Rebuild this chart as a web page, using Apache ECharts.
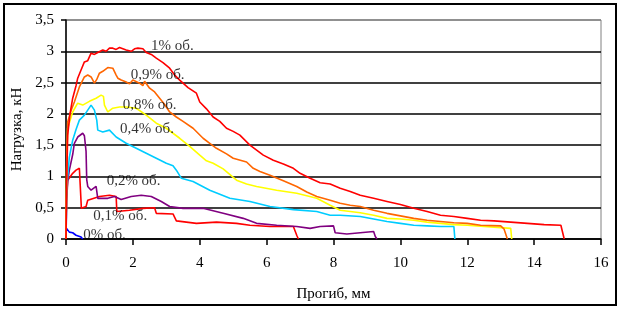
<!DOCTYPE html>
<html><head><meta charset="utf-8">
<script src="https://cdn.jsdelivr.net/npm/echarts@6/dist/echarts.min.js"></script>
<style>html,body{margin:0;padding:0;background:#fff}#c{width:624px;height:310px}</style>
</head><body><div id="c"></div>
<script>
// Deflection (mm) vs load (kN) for each fibre content
const r100 = [[0,0],[0.02,0.9],[0.05,1.66],[0.12,2.0],[0.2,2.25],[0.3,2.45],[0.35,2.57],[0.45,2.7],[0.55,2.83],[0.65,2.85],[0.75,2.97],[0.85,2.95],[0.95,2.98],[1.1,3.02],[1.2,3.0],[1.3,3.05],[1.4,3.05],[1.5,3.03],[1.6,3.06],[1.8,3.02],[1.95,3.0],[2.05,3.04],[2.15,3.05],[2.3,3.04],[2.4,2.98],[2.55,2.95],[2.7,2.89],[2.9,2.82],[3.1,2.73],[3.25,2.62],[3.4,2.54],[3.65,2.42],[3.9,2.33],[4.0,2.19],[4.2,2.08],[4.4,1.95],[4.6,1.88],[4.8,1.77],[5.0,1.72],[5.2,1.66],[5.5,1.50],[5.9,1.34],[6.2,1.26],[6.5,1.20],[6.8,1.13],[7.0,1.05],[7.3,0.97],[7.6,0.90],[7.9,0.88],[8.2,0.81],[8.5,0.76],[8.8,0.70],[9.2,0.65],[9.6,0.60],[10.0,0.55],[10.4,0.49],[10.8,0.44],[11.2,0.38],[11.6,0.36],[12.0,0.33],[12.4,0.30],[12.8,0.29],[13.3,0.27],[13.8,0.25],[14.3,0.23],[14.8,0.22],[14.85,0.2],[14.9,0]];
const r090 = [[0,0],[0.02,1.2],[0.05,1.87],[0.15,2.05],[0.25,2.19],[0.4,2.43],[0.55,2.59],[0.65,2.62],[0.75,2.59],[0.85,2.49],[0.92,2.55],[1.0,2.65],[1.1,2.68],[1.25,2.74],[1.4,2.73],[1.5,2.62],[1.55,2.57],[1.65,2.54],[1.8,2.51],[1.9,2.48],[2.0,2.54],[2.2,2.49],[2.3,2.45],[2.35,2.52],[2.5,2.41],[2.65,2.35],[2.8,2.25],[2.95,2.15],[3.1,2.03],[3.3,1.95],[3.5,1.88],[3.8,1.77],[4.1,1.61],[4.3,1.53],[4.5,1.45],[4.8,1.36],[5.0,1.29],[5.4,1.23],[5.6,1.13],[5.8,1.08],[6.1,1.02],[6.5,0.93],[6.9,0.84],[7.2,0.75],[7.5,0.68],[7.9,0.62],[8.2,0.57],[8.5,0.54],[8.8,0.52],[9.2,0.46],[9.6,0.41],[10.0,0.37],[10.4,0.33],[10.8,0.30],[11.2,0.28],[11.6,0.26],[12.0,0.25],[12.4,0.22],[13.0,0.21],[13.1,0.16],[13.2,0]];
const r080 = [[0,0],[0.02,1.1],[0.05,1.77],[0.2,2.03],[0.35,2.17],[0.5,2.14],[0.7,2.20],[0.9,2.25],[1.05,2.30],[1.12,2.28],[1.15,2.14],[1.25,2.03],[1.4,2.09],[1.6,2.11],[1.8,2.11],[2.1,2.09],[2.4,1.98],[2.7,1.85],[3.0,1.77],[3.2,1.69],[3.4,1.61],[3.7,1.48],[4.0,1.34],[4.2,1.25],[4.4,1.21],[4.7,1.12],[5.1,0.94],[5.4,0.88],[5.7,0.84],[6.3,0.78],[6.9,0.73],[7.5,0.65],[7.9,0.54],[8.2,0.46],[8.8,0.42],[9.2,0.38],[9.6,0.33],[10.0,0.32],[10.4,0.30],[10.8,0.27],[11.2,0.25],[11.6,0.23],[12.0,0.22],[12.8,0.19],[13.3,0.17],[13.33,0]];
const r040 = [[0,0],[0.02,0.8],[0.1,1.31],[0.2,1.58],[0.3,1.75],[0.4,1.90],[0.55,1.98],[0.65,2.06],[0.75,2.14],[0.85,2.06],[0.92,1.90],[0.95,1.74],[1.1,1.71],[1.3,1.74],[1.5,1.63],[1.8,1.53],[2.1,1.45],[2.4,1.37],[2.7,1.29],[3.0,1.21],[3.2,1.17],[3.3,1.10],[3.45,0.97],[3.8,0.92],[4.3,0.78],[4.9,0.65],[5.5,0.60],[6.1,0.52],[6.8,0.47],[7.5,0.44],[7.9,0.38],[8.2,0.38],[8.8,0.36],[9.2,0.32],[9.6,0.28],[10.0,0.25],[10.4,0.22],[10.8,0.21],[11.2,0.20],[11.6,0.20],[11.63,0]];
const r020 = [[0,0],[0.02,0.6],[0.05,0.92],[0.1,1.10],[0.2,1.35],[0.25,1.53],[0.35,1.63],[0.5,1.69],[0.55,1.65],[0.6,1.4],[0.62,0.95],[0.65,0.84],[0.75,0.78],[0.9,0.84],[0.95,0.65],[1.25,0.65],[1.45,0.68],[1.65,0.63],[1.95,0.68],[2.25,0.70],[2.55,0.68],[2.85,0.60],[3.1,0.52],[3.5,0.49],[4.1,0.49],[4.7,0.41],[5.3,0.33],[5.7,0.25],[6.3,0.22],[6.9,0.20],[7.3,0.17],[7.6,0.20],[8.0,0.21],[8.05,0.10],[8.4,0.08],[8.8,0.10],[9.2,0.12],[9.25,0.04],[9.3,0]];
const r010 = [[0,0],[0.01,0.62],[0.05,0.94],[0.2,1.05],[0.3,1.10],[0.4,1.13],[0.45,1.10],[0.46,0.49],[0.6,0.52],[0.65,0.62],[0.7,0.62],[1.0,0.68],[1.3,0.70],[1.5,0.68],[1.52,0.44],[1.9,0.46],[2.3,0.49],[2.65,0.50],[2.7,0.41],[3.2,0.40],[3.3,0.29],[3.9,0.25],[4.5,0.27],[5.1,0.25],[5.5,0.22],[6.1,0.20],[6.8,0.20],[6.9,0.06],[6.95,0]];
const r000 = [[0,0],[0,0.18],[0.05,0.15],[0.1,0.11],[0.2,0.10],[0.3,0.06],[0.45,0.03],[0.5,0]];

const seriesNames = ['0% об.','0,1% об.','0,2% об.','0,4% об.','0,8% об.','0,9% об.','1% об.'];
const seriesData  = [r000, r010, r020, r040, r080, r090, r100];
const seriesColors = ['#0000FF','#FF0000','#800080','#00CCFF','#FFFF00','#FF6600','#FF0000'];

// Curve label anchor positions (data coords)
const labelX = [0.50, 0.80, 1.20, 1.60, 1.68, 1.92, 2.53];
const labelY = [0.06, 0.36, 0.92, 1.76, 2.14, 2.62, 3.08];

const yTicks = [0,0.5,1,1.5,2,2.5,3,3.5];

const FONT = '"Liberation Serif","Times New Roman",serif';
const chart = echarts.init(document.getElementById('c'), null, {renderer:'canvas'});

const series = seriesData.map((d,i)=>({
  type:'line', name:seriesNames[i], data:d, showSymbol:false, symbol:'none',
  lineStyle:{color:seriesColors[i], width:1.6}, itemStyle:{color:seriesColors[i]},
  animation:false, z:2+i
}));
series.push({
  type:'scatter', symbolSize:1, itemStyle:{color:'rgba(0,0,0,0)'}, z:20, animation:false,
  data: seriesNames.map((n,i)=>({value:[labelX[i],labelY[i]], name:n})),
  label:{show:true, position:'right', distance:0, formatter:p=>p.name,
    color:'#000', fontFamily:FONT, fontSize:15}
});

chart.setOption({
  animation:false,
  backgroundColor:'#fff',
  grid:{left:66, right:23, top:20, bottom:71, containLabel:false, outerBoundsMode:'none',
    show:true, borderColor:'#808080', borderWidth:1, backgroundColor:'transparent'},
  xAxis:{type:'value', min:0, max:16, interval:2,
    name:'Прогиб, мм', nameLocation:'middle', nameGap:48,
    nameTextStyle:{fontFamily:FONT, fontSize:15, color:'#000'},
    axisLine:{show:true, lineStyle:{color:'#000', width:1.5}},
    axisTick:{show:true, length:6, lineStyle:{color:'#000', width:1.5}},
    axisLabel:{fontFamily:FONT, fontSize:15, color:'#000', margin:17},
    splitLine:{show:false}},
  yAxis:{type:'value', min:0, max:3.5, interval:0.5,
    name:'Нагрузка, кН', nameLocation:'middle', nameGap:40,
    nameTextStyle:{fontFamily:FONT, fontSize:15, color:'#000'},
    axisLine:{show:true, lineStyle:{color:'#000', width:1.5}},
    axisTick:{show:true, length:5, lineStyle:{color:'#000', width:1.5}},
    axisLabel:{fontFamily:FONT, fontSize:15, color:'#000', margin:12,
      formatter:v=>String(v).replace('.',',')},
    splitLine:{show:true, lineStyle:{color:yTicks.map(t=>t===3.5?'#808080':'#000'), width:1.5}}},
  graphic:[{type:'rect', shape:{x:4,y:4,width:612,height:301}, style:{fill:'none', stroke:'#000', lineWidth:2}, z:100}],
  series: series
});
</script></body></html>
